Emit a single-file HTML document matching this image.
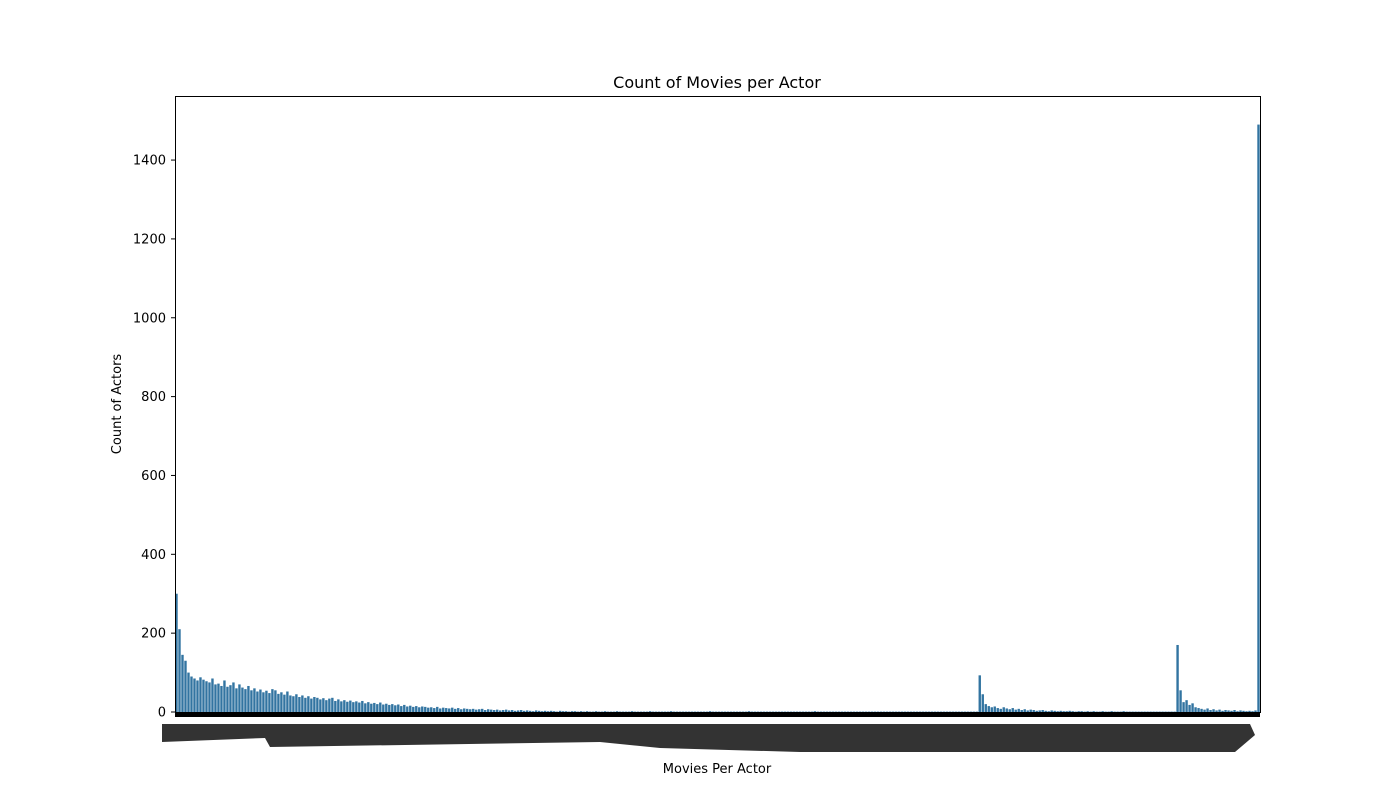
<!DOCTYPE html>
<html><head><meta charset="utf-8"><style>
body{margin:0;background:#fff;}
svg{display:block;font-family:"DejaVu Sans","Liberation Sans",sans-serif;}
</style></head><body>
<svg id="chart" width="1400" height="800">
<rect width="1400" height="800" fill="#fff"/>
<text x="717" y="88" text-anchor="middle" font-size="16">Count of Movies per Actor</text>
<text x="717" y="773" text-anchor="middle" font-size="13">Movies Per Actor</text>
<text transform="translate(121,404) rotate(-90)" text-anchor="middle" font-size="13">Count of Actors</text>
<g id="bars"></g>
<rect x="175" y="712" width="1085" height="5" fill="#000"/>
<polygon points="162,724 1250,724 1255,735 1235,752 800,752 660,748 600,742 270,747 265,738 162,742" fill="#333"/>
<g id="yaxis"></g>
<rect x="175.5" y="96.5" width="1085" height="616" fill="none" stroke="#000" stroke-width="1"/>
</svg>
<script>
const values = [300,210,145,130,100,90,85,80,88,82,
78,75,85,70,72,66,80,64,68,75,
60,70,62,58,66,55,60,52,57,50,
54,48,58,55,46,50,44,52,42,40,
45,38,42,36,40,34,38,36,32,35,
30,34,36,28,32,27,30,26,29,25,
27,24,28,22,25,21,23,20,24,19,
21,18,20,17,19,15,18,14,16,13,
15,12,14,13,11,12,10,13,9,11,
10,9,11,8,10,7,9,8,7,8,
6,7,8,5,7,6,5,6,4,5,
6,4,5,3,4,5,3,4,3,2,
4,3,2,3,2,3,2,1,3,2,
2,1,2,2,1,2,1,2,1,1,
2,1,1,2,1,1,1,2,1,1,
1,1,2,1,1,1,1,1,2,1,
1,1,1,1,1,2,1,1,1,1,
1,1,1,1,1,1,1,1,2,1,
1,1,1,1,1,1,1,1,1,1,
1,2,1,1,1,1,1,1,1,1,
1,1,1,1,1,1,1,1,1,1,
1,1,1,2,1,1,1,1,1,1,
1,1,1,1,1,1,1,1,1,1,
1,1,1,1,1,1,1,1,1,1,
1,1,1,1,1,1,1,1,1,1,
1,1,1,1,1,1,1,1,1,1,
1,1,1,1,1,1,1,1,93,45,
20,15,12,14,10,8,12,9,7,10,
6,8,5,7,4,6,5,3,4,5,
3,2,4,3,2,3,2,2,3,2,
1,2,2,1,2,1,2,1,1,2,
1,1,2,1,1,1,2,1,1,1,
1,1,1,1,1,1,1,1,1,1,
1,1,1,1,170,55,25,30,18,22,
12,10,8,6,9,5,7,4,6,3,
5,4,3,5,2,4,3,2,3,2,4,1490];
const yTicks = [0,200,400,600,800,1000,1200,1400];
const X0=175, W=1085, Y0=712, H=616, YMAX=1562.5;
const step = W/values.length;
function xPos(i){return X0+i*step;}
function yPos(v){return Y0-v/YMAX*H;}
const ns="http://www.w3.org/2000/svg";
const g=document.getElementById('bars');
values.forEach((v,i)=>{
  const r=document.createElementNS(ns,'rect');
  r.setAttribute('x',xPos(i)+step*0.1);
  r.setAttribute('width',step*0.8);
  r.setAttribute('y',yPos(v));
  r.setAttribute('height',Y0-yPos(v));
  r.setAttribute('fill','#3274a1');
  
  
  g.appendChild(r);
});
const ya=document.getElementById('yaxis');
yTicks.forEach(t=>{
  const y=yPos(t);
  const l=document.createElementNS(ns,'line');
  l.setAttribute('x1',171);l.setAttribute('x2',175);
  l.setAttribute('y1',y);l.setAttribute('y2',y);
  l.setAttribute('stroke','#000');
  
  
  ya.appendChild(l);
  const tx=document.createElementNS(ns,'text');
  tx.setAttribute('x',166);tx.setAttribute('y',y+4.5);
  tx.setAttribute('text-anchor','end');tx.setAttribute('font-size','13');
  tx.textContent=t;
  
  
  ya.appendChild(tx);
});
</script>
</body></html>
